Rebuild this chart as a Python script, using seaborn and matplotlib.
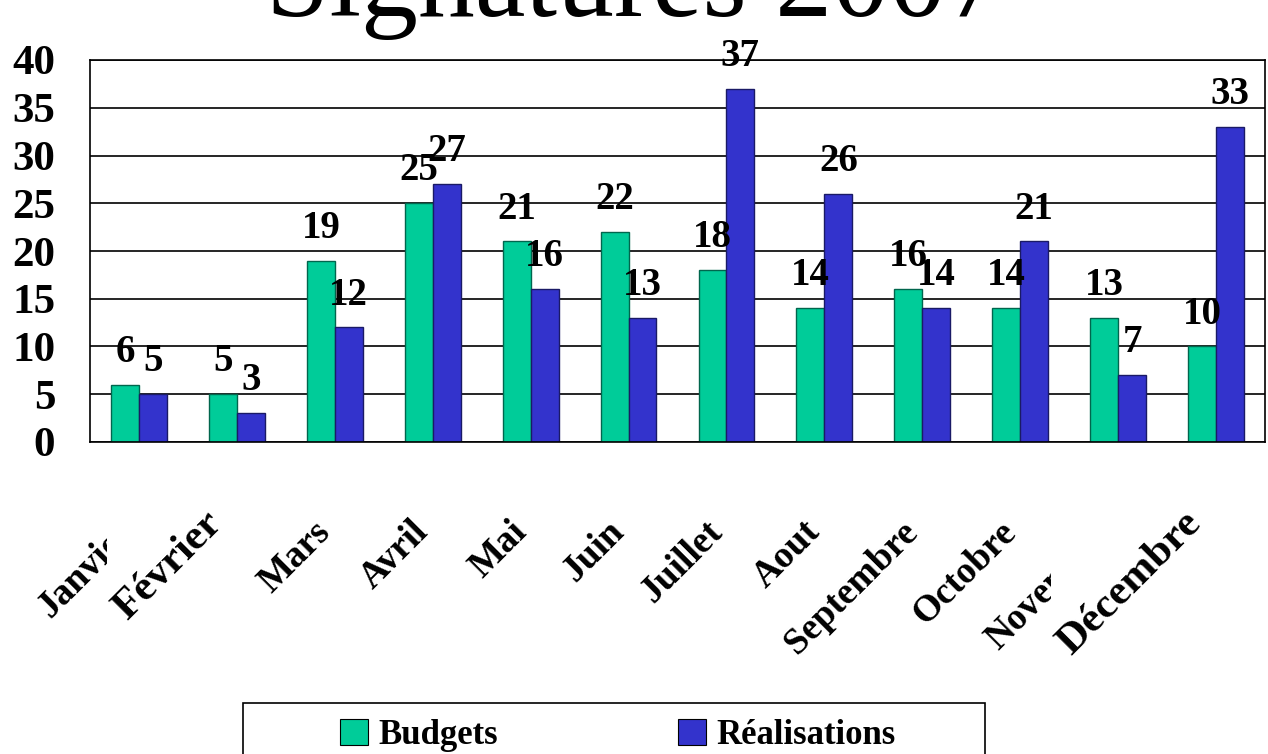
import pandas as pd
import matplotlib.pyplot as plt
import seaborn as sns
from matplotlib.patches import Rectangle
from matplotlib.transforms import Bbox, ScaledTranslation

# Données
mois = ["Janvier", "Février", "Mars", "Avril", "Mai", "Juin", "Juillet",
        "Aout", "Septembre", "Octobre", "Novembre", "Décembre"]
budgets = [6, 5, 19, 25, 21, 22, 18, 14, 16, 14, 13, 10]
realisations = [5, 3, 12, 27, 16, 13, 37, 26, 14, 21, 7, 33]
series = ["Budgets", "Réalisations"]
couleurs = ["#00CC99", "#3333CC"]
bords = ["#00664d", "#1a1a66"]
titre = "Signatures 2007"

df = pd.DataFrame({
    "mois": mois * 2,
    "valeur": budgets + realisations,
    "serie": [series[0]] * len(mois) + [series[1]] * len(mois),
})

sns.set_style("white")
plt.rcParams["font.family"] = ["Liberation Serif", "DejaVu Serif"]
plt.rcParams["font.weight"] = "bold"
for k in ["text.color", "axes.labelcolor", "xtick.color", "ytick.color"]:
    plt.rcParams[k] = "black"

W, H = 1268, 754
fig = plt.figure(figsize=(W / 100, H / 100), dpi=100)
ax = fig.add_axes([90 / W, 1 - 442 / H, 1175 / W, 382 / H])

sns.barplot(data=df, x="mois", y="valeur", hue="serie", order=mois,
            hue_order=series, palette=couleurs, saturation=1, width=0.57,
            gap=0, linewidth=1, ax=ax)
for cont, bc in zip(ax.containers, bords):
    for p in cont:
        p.set_edgecolor(bc)

# Axes
ax.set_xlim(-0.5, len(mois) - 0.5)
ax.set_ylim(0, 40)
ax.set_yticks(range(0, 41, 5))
ax.yaxis.grid(True, color="black", lw=1.2)
ax.set_axisbelow(True)
ax.set_xlabel("")
ax.set_ylabel("")
for s in ax.spines.values():
    s.set_color("black")
    s.set_linewidth(1.2)

ax.tick_params(axis="y", direction="out", length=11, width=1.2, color="black",
               labelsize=31, pad=14)
ax.set_xticks([i - 0.5 for i in range(len(mois) + 1)], minor=True)
ax.tick_params(axis="x", which="minor", direction="out", length=10, width=1.2,
               color="#444444")
ax.tick_params(axis="x", which="major", length=0, pad=52)

grands = ["Février", "Décembre"]
for lab in ax.get_xticklabels():
    grand = lab.get_text() in grands
    lab.set_rotation(45)
    lab.set_rotation_mode("anchor")
    lab.set_ha("right")
    lab.set_va("top")
    lab.set_fontweight("bold")
    lab.set_fontsize(31 if grand else 27)
    dx, dy = (-34, 10) if grand else (-22, 0)
    lab.set_transform(lab.get_transform()
                      + ScaledTranslation(dx / 100, dy / 100, fig.dpi_scale_trans))
for lab in ax.get_yticklabels():
    lab.set_fontweight("bold")

# Etiquettes de valeurs
for cont in ax.containers:
    ax.bar_label(cont, padding=10, fontsize=28, fontweight="bold")

# Légende
handles, labels = ax.get_legend_handles_labels()
ax.get_legend().remove()
leg = fig.legend(handles, labels, loc="upper center",
                 bbox_to_anchor=(618 / W, 1 - 703 / H), ncol=2,
                 frameon=False, prop={"size": 25, "weight": "bold"},
                 handlelength=0.8, handleheight=0.8, handletextpad=0.3,
                 columnspacing=5.2, borderpad=0.45, borderaxespad=0)
for h in leg.legend_handles:
    h.set_edgecolor("black")
    h.set_linewidth(0.8)
fig.add_artist(Rectangle((243 / W, -0.05), 742 / W, 0.05 + 51 / H,
                         transform=fig.transFigure, fill=False,
                         edgecolor="black", linewidth=1.2))

# Titre
fig.text(635 / W, 1 - 16 / H, titre, ha="center", va="baseline",
         fontsize=82, fontweight="normal")

# Les étiquettes longues masquent en partie leurs voisines
fig.canvas.draw()
labs = {t.get_text(): t for t in ax.get_xticklabels()}
for cache, couvre in [("Janvier", "Février"), ("Novembre", "Décembre")]:
    ext = labs[couvre].get_window_extent()
    labs[cache].set_clip_on(True)
    labs[cache].set_clip_box(Bbox([[0, 0], [ext.x0, fig.bbox.height]]))

fig.savefig("out.png", dpi=100)
